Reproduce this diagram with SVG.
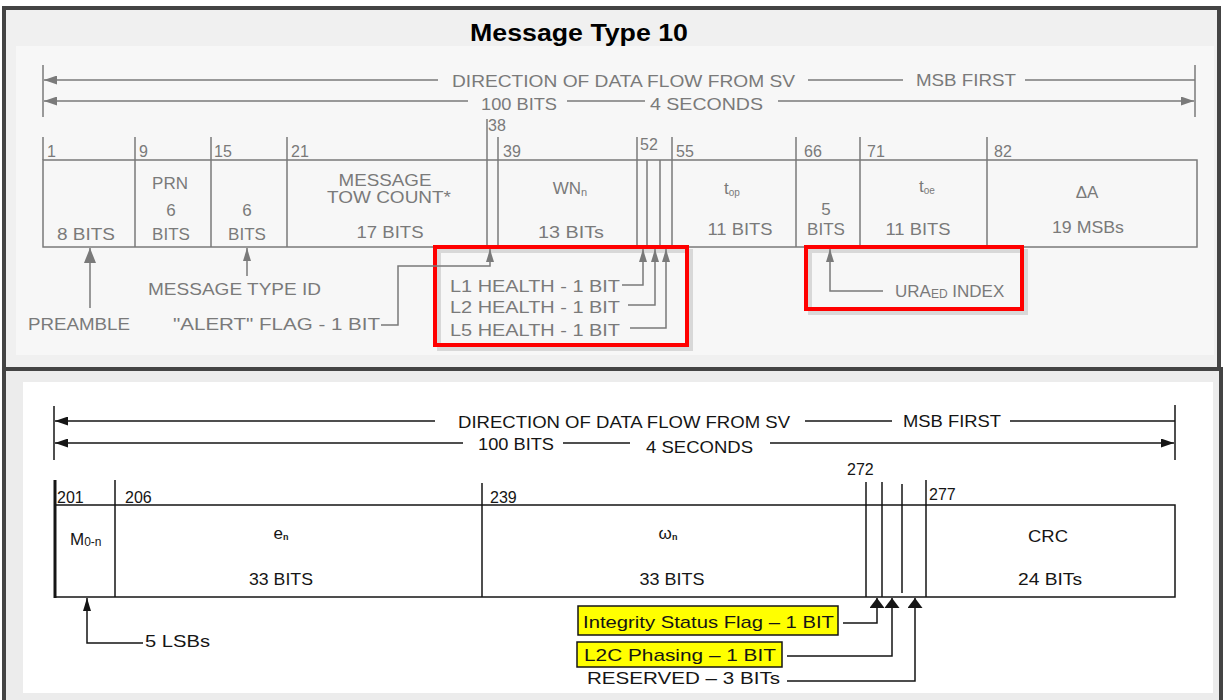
<svg xmlns="http://www.w3.org/2000/svg" width="1225" height="700" viewBox="0 0 1225 700">
<style>
.tg{font-family:"Liberation Sans",Arial,sans-serif;font-size:17px;fill:#7a7a7a}
.tgn{font-family:"Liberation Sans",Arial,sans-serif;font-size:16px;fill:#7a7a7a}
.tb{font-family:"Liberation Sans",Arial,sans-serif;font-size:17px;fill:#151515}
.tbn{font-family:"Liberation Sans",Arial,sans-serif;font-size:16px;fill:#151515}
.lg{stroke:#7a7a7a;stroke-width:1.5;fill:none}
.lb{stroke:#151515;stroke-width:1.5;fill:none}
.red{fill:none;stroke:#ff0000;stroke-width:4}
.shadow{fill:none;stroke:#d8d8d8;stroke-width:4}
.yel{fill:#ffff00;stroke:#151515;stroke-width:1.5}
</style>
<defs>
<marker id="agDir" markerUnits="userSpaceOnUse" markerWidth="14" markerHeight="9" refX="13" refY="4.5" orient="auto"><path d="M0,0 L13,4.5 L0,9 z" fill="#7a7a7a"/></marker>
<marker id="agS" markerUnits="userSpaceOnUse" markerWidth="14" markerHeight="9" refX="13" refY="4" orient="auto"><path d="M0,0 L13,4 L0,8 z" fill="#7a7a7a"/></marker>
<marker id="agB" markerUnits="userSpaceOnUse" markerWidth="16" markerHeight="13" refX="15" refY="6" orient="auto"><path d="M0,0 L15,6 L0,12 z" fill="#7a7a7a"/></marker>
<marker id="abDir" markerUnits="userSpaceOnUse" markerWidth="14" markerHeight="9" refX="13" refY="4.5" orient="auto"><path d="M0,0 L13,4.5 L0,9 z" fill="#151515"/></marker>
<marker id="abUp" markerUnits="userSpaceOnUse" markerWidth="11" markerHeight="16" refX="10" refY="7.5" orient="auto"><path d="M0,0 L10,7.5 L0,15 z" fill="#151515"/></marker>
<marker id="abL" markerUnits="userSpaceOnUse" markerWidth="14" markerHeight="9" refX="13" refY="4" orient="auto"><path d="M0,0 L13,4 L0,8 z" fill="#151515"/></marker>
</defs>
<rect x="0" y="0" width="1225" height="700" fill="#ffffff"/>

<!-- Top panel frame -->
<g id="panel-top">
<rect x="4" y="8" width="1215" height="361" fill="#f0f0f0" stroke="#444444" stroke-width="4"/>
<rect x="16" y="46" width="1198" height="309" fill="#f7f7f7"/>
<text x="579" y="41" text-anchor="middle" font-family="'Liberation Sans',Arial,sans-serif" font-weight="bold" font-size="23" fill="#000" textLength="218" lengthAdjust="spacingAndGlyphs">Message Type 10</text>
</g>

<!-- Bottom panel frame -->
<g id="panel-bottom">
<rect x="4" y="369" width="1217" height="335" fill="#ececec" stroke="#444444" stroke-width="4"/>
<rect x="23" y="382" width="1190" height="311" fill="#ffffff"/>
</g>

<!-- Top direction header -->
<g id="top-direction">
<line class="lg" x1="43" y1="65" x2="43" y2="117"/>
<line class="lg" x1="1195" y1="65" x2="1195" y2="117"/>
<text class="tg" x="452" y="87" textLength="343" lengthAdjust="spacingAndGlyphs">DIRECTION OF DATA FLOW FROM SV</text>
<text class="tg" x="916" y="86" textLength="100" lengthAdjust="spacingAndGlyphs">MSB FIRST</text>
<text class="tg" x="481" y="110" textLength="76" lengthAdjust="spacingAndGlyphs">100 BITS</text>
<text class="tg" x="650" y="110" textLength="113" lengthAdjust="spacingAndGlyphs">4 SECONDS</text>
</g>

<!-- Top field box -->
<g id="top-fields">
<rect class="lg" x="43" y="160" width="1154" height="87"/>
<line class="lg" x1="43" y1="137" x2="43" y2="160"/>
<line class="lg" x1="135" y1="137" x2="135" y2="247"/>
<line class="lg" x1="211" y1="137" x2="211" y2="247"/>
<line class="lg" x1="287" y1="137" x2="287" y2="247"/>
<line class="lg" x1="487" y1="119" x2="487" y2="247"/>
<line class="lg" x1="498" y1="137" x2="498" y2="247"/>
<line class="lg" x1="637" y1="137" x2="637" y2="247"/>
<line class="lg" x1="647" y1="160" x2="647" y2="247"/>
<line class="lg" x1="660" y1="160" x2="660" y2="247"/>
<line class="lg" x1="672" y1="137" x2="672" y2="247"/>
<line class="lg" x1="796" y1="137" x2="796" y2="247"/>
<line class="lg" x1="860" y1="137" x2="860" y2="247"/>
<line class="lg" x1="987" y1="137" x2="987" y2="247"/>
<text class="tgn" x="47" y="157">1</text>
<text class="tgn" x="139" y="157">9</text>
<text class="tgn" x="214" y="157">15</text>
<text class="tgn" x="291" y="157">21</text>
<text class="tgn" x="488" y="131">38</text>
<text class="tgn" x="503" y="157">39</text>
<text class="tgn" x="640" y="150">52</text>
<text class="tgn" x="676" y="157">55</text>
<text class="tgn" x="804" y="157">66</text>
<text class="tgn" x="867" y="157">71</text>
<text class="tgn" x="994" y="157">82</text>
</g>

<g id="f-preamble"><text class="tg" x="86" y="240" text-anchor="middle" textLength="58" lengthAdjust="spacingAndGlyphs">8 BITS</text></g>
<g id="f-prn">
<text class="tg" x="170" y="189" text-anchor="middle">PRN</text>
<text class="tg" x="171" y="216" text-anchor="middle">6</text>
<text class="tg" x="171" y="240" text-anchor="middle">BITS</text>
</g>
<g id="f-msgtype">
<text class="tg" x="247" y="216" text-anchor="middle">6</text>
<text class="tg" x="247" y="240" text-anchor="middle">BITS</text>
</g>
<g id="f-tow">
<text class="tg" x="385" y="186" text-anchor="middle" font-size="16" textLength="93" lengthAdjust="spacingAndGlyphs">MESSAGE</text>
<text class="tg" x="389" y="203" text-anchor="middle" font-size="16" textLength="124" lengthAdjust="spacingAndGlyphs">TOW COUNT*</text>
<text class="tg" x="390" y="238" text-anchor="middle" textLength="67" lengthAdjust="spacingAndGlyphs">17 BITS</text>
</g>
<g id="f-wn">
<text class="tg" x="570" y="194" text-anchor="middle">WN<tspan font-size="11" dy="2">n</tspan></text>
<text class="tg" x="571" y="238" text-anchor="middle" textLength="66" lengthAdjust="spacingAndGlyphs">13 BITs</text>
</g>
<g id="f-top">
<text class="tg" x="732" y="194" text-anchor="middle">t<tspan font-size="10" dy="2">op</tspan></text>
<text class="tg" x="740" y="235" text-anchor="middle" textLength="65" lengthAdjust="spacingAndGlyphs">11 BITS</text>
</g>
<g id="f-ura">
<text class="tg" x="826" y="215" text-anchor="middle">5</text>
<text class="tg" x="826" y="235" text-anchor="middle">BITS</text>
</g>
<g id="f-toe">
<text class="tg" x="927" y="192" text-anchor="middle">t<tspan font-size="10" dy="2">oe</tspan></text>
<text class="tg" x="918" y="235" text-anchor="middle" textLength="65" lengthAdjust="spacingAndGlyphs">11 BITS</text>
</g>
<g id="f-da">
<text class="tg" x="1087" y="198" text-anchor="middle">ΔA</text>
<text class="tg" x="1088" y="233" text-anchor="middle" textLength="72" lengthAdjust="spacingAndGlyphs">19 MSBs</text>
</g>

<!-- Top annotations -->
<g id="a-preamble"><text class="tg" x="28" y="330" textLength="102" lengthAdjust="spacingAndGlyphs">PREAMBLE</text></g>
<g id="a-msgtypeid"><text class="tg" x="148" y="295" textLength="173" lengthAdjust="spacingAndGlyphs">MESSAGE TYPE ID</text></g>
<g id="a-alert"><text class="tg" x="173" y="330" textLength="207" lengthAdjust="spacingAndGlyphs">"ALERT" FLAG  -  1 BIT</text></g>
<g id="a-health">
<rect class="shadow" x="439" y="251" width="252" height="98"/>
<rect class="red" x="435" y="247" width="252" height="98"/>
<text class="tg" x="450" y="292" textLength="170" lengthAdjust="spacingAndGlyphs">L1 HEALTH  - 1 BIT</text>
<text class="tg" x="450" y="313" textLength="170" lengthAdjust="spacingAndGlyphs">L2 HEALTH  - 1 BIT</text>
<text class="tg" x="450" y="336" textLength="170" lengthAdjust="spacingAndGlyphs">L5 HEALTH  - 1 BIT</text>
</g>
<g id="a-uraed">
<rect class="shadow" x="810" y="251" width="216" height="62"/>
<rect class="red" x="806" y="247" width="216" height="62"/>
<text class="tg" x="895" y="297" font-size="18">URA<tspan font-size="12" dy="1">ED</tspan><tspan dy="-1"> INDEX</tspan></text>
</g>

<!-- Bottom direction header -->
<g id="bottom-direction">
<line class="lb" x1="54" y1="406" x2="54" y2="460"/>
<line class="lb" x1="1175" y1="405" x2="1175" y2="460"/>
<text class="tb" x="458" y="428" textLength="332" lengthAdjust="spacingAndGlyphs">DIRECTION OF DATA FLOW FROM SV</text>
<text class="tb" x="903" y="427" textLength="98" lengthAdjust="spacingAndGlyphs">MSB FIRST</text>
<text class="tb" x="478" y="450" textLength="76" lengthAdjust="spacingAndGlyphs">100 BITS</text>
<text class="tb" x="646" y="453" textLength="107" lengthAdjust="spacingAndGlyphs">4 SECONDS</text>
</g>

<!-- Bottom field box -->
<g id="bottom-fields">
<rect class="lb" x="55" y="505" width="1120" height="92"/>
<line stroke="#151515" stroke-width="3" x1="55" y1="480" x2="55" y2="598"/>
<line class="lb" x1="115" y1="480" x2="115" y2="597"/>
<line class="lb" x1="482" y1="483" x2="482" y2="597"/>
<line class="lb" x1="866" y1="482" x2="866" y2="597"/>
<line class="lb" x1="882" y1="482" x2="882" y2="597"/>
<line class="lb" x1="902" y1="484" x2="902" y2="593"/>
<line class="lb" x1="926" y1="480" x2="926" y2="597"/>
<text class="tbn" x="57" y="503">201</text>
<text class="tbn" x="125" y="503">206</text>
<text class="tbn" x="490" y="503">239</text>
<text class="tbn" x="847" y="475">272</text>
<text class="tbn" x="929" y="500">277</text>
</g>
<g id="f-m0n"><text class="tb" x="70" y="545">M<tspan font-size="12" dy="1">0-n</tspan></text></g>
<g id="f-en">
<text class="tb" x="281" y="539" text-anchor="middle" font-size="12">e<tspan font-size="9" dy="1" font-weight="bold">n</tspan></text>
<text class="tb" x="281" y="585" text-anchor="middle" textLength="64" lengthAdjust="spacingAndGlyphs">33 BITS</text>
</g>
<g id="f-wn2">
<text class="tb" x="668" y="539" text-anchor="middle" font-size="12">ω<tspan font-size="9" dy="1" font-weight="bold">n</tspan></text>
<text class="tb" x="672" y="585" text-anchor="middle" textLength="65" lengthAdjust="spacingAndGlyphs">33 BITS</text>
</g>
<g id="f-crc">
<text class="tb" x="1048" y="542" text-anchor="middle" textLength="40" lengthAdjust="spacingAndGlyphs">CRC</text>
<text class="tb" x="1050" y="585" text-anchor="middle" textLength="64" lengthAdjust="spacingAndGlyphs">24 BITs</text>
</g>

<!-- Bottom annotations -->
<g id="a-5lsbs"><text class="tb" x="145" y="647" textLength="65" lengthAdjust="spacingAndGlyphs">5 LSBs</text></g>
<g id="a-integrity">
<rect class="yel" x="578" y="606" width="260" height="29"/>
<text class="tb" x="583" y="628" font-size="19" textLength="251" lengthAdjust="spacingAndGlyphs">Integrity Status Flag – 1 BIT</text>
</g>
<g id="a-l2c">
<rect class="yel" x="577" y="642" width="205" height="25"/>
<text class="tb" x="584" y="661" font-size="19" textLength="192" lengthAdjust="spacingAndGlyphs">L2C Phasing – 1 BIT</text>
</g>
<g id="a-reserved"><text class="tb" x="587" y="684" font-size="19" textLength="193" lengthAdjust="spacingAndGlyphs">RESERVED – 3 BITs</text></g>

<!-- Connectors -->
<g id="connectors">
<line class="lg" x1="438" y1="80" x2="44" y2="80" marker-end="url(#agDir)"/>
<line class="lg" x1="808" y1="80" x2="903" y2="80"/>
<line class="lg" x1="1025" y1="80" x2="1195" y2="80"/>
<line class="lg" x1="468" y1="101" x2="44" y2="101" marker-end="url(#agDir)"/>
<line class="lg" x1="567" y1="101" x2="645" y2="101"/>
<line class="lg" x1="778" y1="101" x2="1194" y2="101" marker-end="url(#agDir)"/>
<line class="lg" x1="90" y1="308" x2="90" y2="248" marker-end="url(#agB)"/>
<line class="lg" x1="247" y1="276" x2="247" y2="248" marker-end="url(#agS)"/>
<polyline class="lg" points="381,325 398,325 398,266 490,266 490,249" marker-end="url(#agS)"/>
<polyline class="lg" points="622,285 643,285 643,249" marker-end="url(#agS)"/>
<polyline class="lg" points="628,305 655,305 655,249" marker-end="url(#agS)"/>
<polyline class="lg" points="630,328 666,328 666,249" marker-end="url(#agS)"/>
<polyline class="lg" points="883,291 830,291 830,249" marker-end="url(#agS)"/>
<line class="lb" x1="435" y1="421" x2="55" y2="421" marker-end="url(#abDir)"/>
<line class="lb" x1="805" y1="421" x2="892" y2="421"/>
<line class="lb" x1="1010" y1="421" x2="1175" y2="421"/>
<line class="lb" x1="463" y1="443" x2="55" y2="443" marker-end="url(#abDir)"/>
<line class="lb" x1="563" y1="443" x2="630" y2="443"/>
<line class="lb" x1="770" y1="443" x2="1174" y2="443" marker-end="url(#abDir)"/>
<polyline class="lb" points="143,643 87,643 87,598" marker-end="url(#abL)"/>
<polyline class="lb" points="843,623 877,623 877,598" marker-end="url(#abUp)"/>
<polyline class="lb" points="787,656 892,656 892,598" marker-end="url(#abUp)"/>
<polyline class="lb" points="787,681 915,681 915,598" marker-end="url(#abUp)"/>
</g>
</svg>
